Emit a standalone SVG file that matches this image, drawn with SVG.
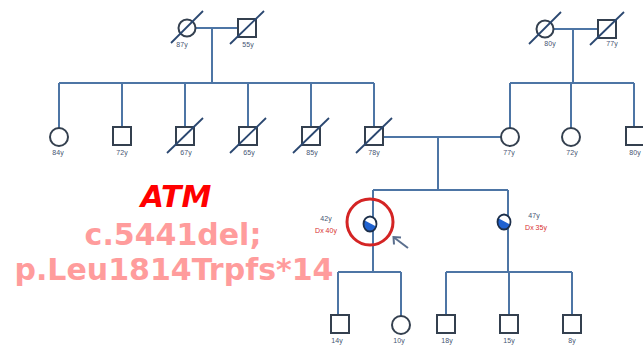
<svg xmlns="http://www.w3.org/2000/svg" width="643" height="347" viewBox="0 0 643 347">
<style>
.ln{stroke:#4d75a5;stroke-width:2;fill:none}
.sh{stroke:#34404f;stroke-width:2;fill:#fff}
.dc{stroke:#2a4770;stroke-width:1.8}
.age{font-family:"Liberation Sans",Arial,sans-serif;font-size:7px;fill:#465673;text-anchor:middle}
.dx{font-family:"Liberation Sans",Arial,sans-serif;font-size:7px;fill:#d83030;text-anchor:middle}
.big{font-family:"DejaVu Sans",Verdana,sans-serif;font-weight:bold;font-size:30px;text-anchor:middle}
</style>
<defs>
<g id="aff">
<ellipse rx="6.5" ry="7.5" fill="#fff"/>
<path d="M -5.63 -3.75 A 6.5 7.5 0 1 0 6.11 2.57 Z" fill="#1f62d0"/>
<ellipse rx="6.5" ry="7.5" fill="none" stroke="#1c2f4a" stroke-width="1.8"/>
</g>
</defs>
<rect width="643" height="347" fill="#fff"/>
<g id="connectors">
<line class="ln" x1="195" y1="28" x2="238" y2="28"/>
<line class="ln" x1="212" y1="28" x2="212" y2="83"/>
<line class="ln" x1="59" y1="83" x2="374" y2="83"/>
<line class="ln" x1="59" y1="83" x2="59" y2="128"/>
<line class="ln" x1="122" y1="83" x2="122" y2="127"/>
<line class="ln" x1="185" y1="83" x2="185" y2="127"/>
<line class="ln" x1="248" y1="83" x2="248" y2="127"/>
<line class="ln" x1="311" y1="83" x2="311" y2="127"/>
<line class="ln" x1="374" y1="83" x2="374" y2="127"/>
<line class="ln" x1="553" y1="29" x2="598" y2="29"/>
<line class="ln" x1="573" y1="29" x2="573" y2="83"/>
<line class="ln" x1="510" y1="83" x2="634" y2="83"/>
<line class="ln" x1="510" y1="83" x2="510" y2="128"/>
<line class="ln" x1="571" y1="83" x2="571" y2="128"/>
<line class="ln" x1="634" y1="83" x2="634" y2="127"/>
<line class="ln" x1="383" y1="137" x2="501" y2="137"/>
<line class="ln" x1="438" y1="137" x2="438" y2="190"/>
<line class="ln" x1="373" y1="190" x2="508" y2="190"/>
<line class="ln" x1="373" y1="190" x2="373" y2="272"/>
<line class="ln" x1="508" y1="190" x2="508" y2="272"/>
<line class="ln" x1="338" y1="272" x2="401" y2="272"/>
<line class="ln" x1="338" y1="272" x2="338" y2="315"/>
<line class="ln" x1="401" y1="272" x2="401" y2="316"/>
<line class="ln" x1="446" y1="272" x2="572" y2="272"/>
<line class="ln" x1="446" y1="272" x2="446" y2="315"/>
<line class="ln" x1="509" y1="272" x2="509" y2="315"/>
<line class="ln" x1="572" y1="272" x2="572" y2="315"/>
</g>
<g id="gf1"><circle class="sh" cx="187" cy="28" r="8.5"/><line class="dc" x1="171" y1="43" x2="203" y2="11"/><text class="age" x="182" y="47">87y</text></g>
<g id="gm1"><rect class="sh" x="238" y="19" width="18" height="18"/><line class="dc" x1="230" y1="44" x2="264" y2="11"/><text class="age" x="248" y="47">55y</text></g>
<g id="gf2"><circle class="sh" cx="545" cy="29" r="8.5"/><line class="dc" x1="529" y1="44" x2="561" y2="12"/><text class="age" x="550" y="46">80y</text></g>
<g id="gm2"><rect class="sh" x="598" y="20" width="18" height="18"/><line class="dc" x1="590" y1="45" x2="624" y2="12"/><text class="age" x="612" y="46">77y</text></g>
<g id="a84"><circle class="sh" cx="59" cy="137" r="9"/><text class="age" x="58" y="155">84y</text></g>
<g id="a72"><rect class="sh" x="113" y="127" width="18" height="18"/><text class="age" x="122" y="155">72y</text></g>
<g id="a67"><rect class="sh" x="176" y="127" width="18" height="18"/><line class="dc" x1="167" y1="153" x2="203" y2="118"/><text class="age" x="186" y="155">67y</text></g>
<g id="a65"><rect class="sh" x="239" y="127" width="18" height="18"/><line class="dc" x1="230" y1="153" x2="266" y2="118"/><text class="age" x="249" y="155">65y</text></g>
<g id="a85"><rect class="sh" x="302" y="127" width="18" height="18"/><line class="dc" x1="293" y1="153" x2="329" y2="118"/><text class="age" x="312" y="155">85y</text></g>
<g id="father"><rect class="sh" x="365" y="127" width="18" height="18"/><line class="dc" x1="356" y1="153" x2="392" y2="118"/><text class="age" x="374" y="155">78y</text></g>
<g id="mother"><circle class="sh" cx="510" cy="137" r="9"/><text class="age" x="509" y="155">77y</text></g>
<g id="m72"><circle class="sh" cx="571" cy="137" r="9"/><text class="age" x="572" y="155">72y</text></g>
<g id="m80"><rect class="sh" x="626" y="127" width="18" height="18"/><text class="age" x="635" y="155">80y</text></g>
<g id="proband">
<circle cx="370" cy="222" r="23" fill="none" stroke="#d42424" stroke-width="3"/>
<use href="#aff" transform="translate(370,224)"/>
<text class="age" x="326" y="221">42y</text>
<text class="dx" x="326" y="233">Dx 40y</text>
<polyline points="401,237.5 393.5,237 394,244.5" fill="none" stroke="#5b6f8e" stroke-width="2"/>
<line x1="394" y1="237.5" x2="408" y2="248" stroke="#5b6f8e" stroke-width="2"/>
</g>
<g id="sister">
<use href="#aff" transform="translate(504,222)"/>
<text class="age" x="534" y="218">47y</text>
<text class="dx" x="536" y="230">Dx 35y</text>
</g>
<g id="c14"><rect class="sh" x="331" y="315" width="18" height="18"/><text class="age" x="337" y="343">14y</text></g>
<g id="c10"><circle class="sh" cx="401" cy="325" r="9"/><text class="age" x="399" y="343">10y</text></g>
<g id="c18"><rect class="sh" x="437" y="315" width="18" height="18"/><text class="age" x="447" y="343">18y</text></g>
<g id="c15"><rect class="sh" x="500" y="315" width="18" height="18"/><text class="age" x="509" y="343">15y</text></g>
<g id="c8"><rect class="sh" x="563" y="315" width="18" height="18"/><text class="age" x="572" y="343">8y</text></g>
<g id="mutation">
<text class="big" x="176" y="207" fill="#ff0000" font-style="italic">ATM</text>
<text class="big" x="173" y="245" fill="#ff9c9c">c.5441del;</text>
<text class="big" x="174" y="280" fill="#ff9c9c">p.Leu1814Trpfs*14</text>
</g>
</svg>
